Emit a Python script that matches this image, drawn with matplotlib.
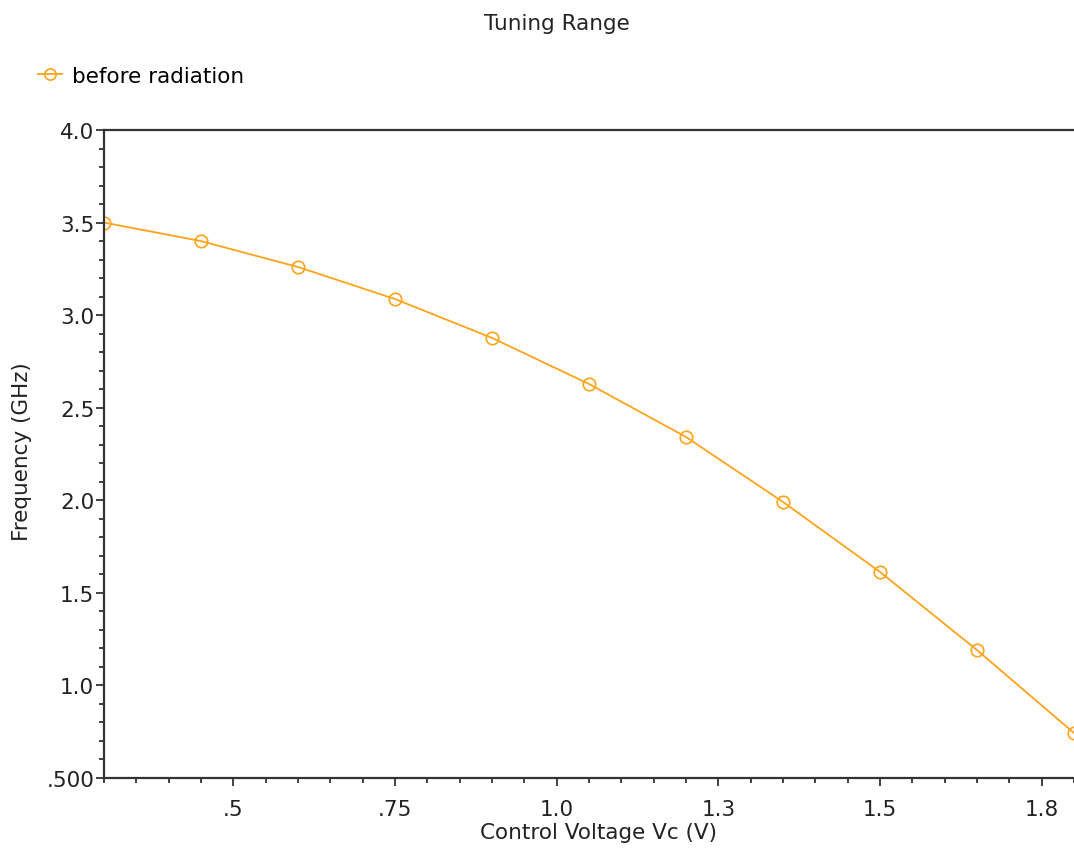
import matplotlib.pyplot as plt
from matplotlib.ticker import MultipleLocator, FixedLocator, FixedFormatter

# control voltage (V) and oscillation frequency (GHz)
vc = [0.3, 0.45, 0.6, 0.75, 0.9, 1.05, 1.2, 1.35, 1.5, 1.65, 1.8]
freq = [3.50, 3.40, 3.26, 3.087, 2.877, 2.628, 2.342, 1.991, 1.613, 1.191, 0.743]

x_ticks = [0.5, 0.75, 1.0, 1.25, 1.5, 1.75]
x_labels = ['.5', '.75', '1.0', '1.3', '1.5', '1.8']
y_ticks = [0.5, 1.0, 1.5, 2.0, 2.5, 3.0, 3.5, 4.0]
y_labels = ['.500', '1.0', '1.5', '2.0', '2.5', '3.0', '3.5', '4.0']

ORANGE = '#FFA31A'
AXIS = '#333333'
FS = 15.5

fig = plt.figure(figsize=(10.74, 8.53), dpi=100)
ax = fig.add_axes([104 / 1074, 1 - 779 / 853, 1 - 104 / 1074, (779 - 131) / 853])

line, = ax.plot(vc, freq, color=ORANGE, lw=1.3, marker='o', ms=9,
                mfc='none', mec=ORANGE, mew=1.2, label='before radiation')

ax.set_xlim(0.3, 1.8)
ax.set_ylim(0.5, 4.0)

ax.xaxis.set_major_locator(FixedLocator(x_ticks))
ax.xaxis.set_major_formatter(FixedFormatter(x_labels))
ax.xaxis.set_minor_locator(MultipleLocator(0.05))
ax.yaxis.set_major_locator(FixedLocator(y_ticks))
ax.yaxis.set_major_formatter(FixedFormatter(y_labels))
ax.yaxis.set_minor_locator(MultipleLocator(0.1))

for side in ['left', 'bottom', 'top']:
    ax.spines[side].set_color(AXIS)
    ax.spines[side].set_linewidth(1.6)
ax.spines['right'].set_visible(False)

ax.tick_params(which='major', length=6, width=1.3, color=AXIS,
               labelsize=FS, labelcolor='#222222', pad=1)
ax.tick_params(which='minor', length=3.5, width=1.3, color=AXIS)
ax.tick_params(axis='x', which='both', pad=9)

fig.text(557 / 1074, 1 - 24 / 853, 'Tuning Range', ha='center', va='center',
         fontsize=FS, color='#222222')
fig.text(598 / 1074, 1 - 833 / 853, 'Control Voltage Vc (V)', ha='center',
         va='center', fontsize=FS, color='#222222')
fig.text(22 / 1074, 1 - 452 / 853, 'Frequency (GHz)', ha='center', va='center',
         rotation=90, fontsize=FS, color='#222222')

fig.legend(handles=[line], loc='center left', bbox_to_anchor=(38 / 1074, 1 - 77 / 853),
           frameon=False, fontsize=FS, handlelength=1.1, handletextpad=0.5,
           borderpad=0, borderaxespad=0, markerscale=0.9)

fig.savefig('out.png', dpi=100)
